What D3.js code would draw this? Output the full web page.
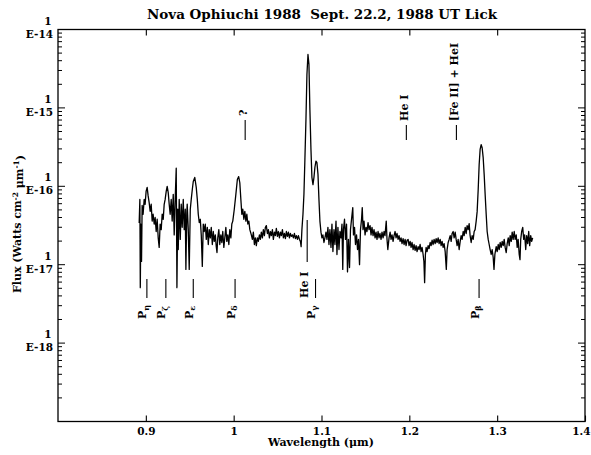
<!DOCTYPE html>
<html>
<head>
<meta charset="utf-8">
<script src="https://cdn.jsdelivr.net/npm/d3@7"></script>
<style>
  body { margin: 0; background: #fff; }
  text { font-family: "DejaVu Serif", serif; font-weight: bold; fill: #000; white-space: pre; }
</style>
</head>
<body>
<svg id="chart" width="591" height="455"></svg>
<script>
// spectrum: [wavelength (um), flux in units of 1e-17 W cm^-2 um^-1]
const spectrumPoints = [
  [0.8924, 3.4], [0.8932, 6.8], [0.8937, 0.51], [0.8943, 3.3], [0.8951, 1.1], [0.8958, 5.7],
  [0.8969, 4.4], [0.8981, 6.8], [0.8992, 5.9], [0.9003, 8.6], [0.9015, 9.7], [0.9026, 7.6],
  [0.9038, 6.2], [0.9049, 4.8], [0.9061, 5.9], [0.9072, 3.6], [0.9083, 4.4], [0.9095, 3.3],
  [0.9106, 4.0], [0.9118, 2.65], [0.9129, 3.8], [0.9141, 2.2], [0.9152, 1.66], [0.9163, 3.3],
  [0.9175, 2.8], [0.9186, 4.4], [0.9198, 3.8], [0.9209, 5.9], [0.9220, 6.8], [0.9232, 8.6],
  [0.9243, 10], [0.9255, 8.3], [0.9266, 5.9], [0.9277, 4.4], [0.9289, 6.8], [0.9300, 3.6],
  [0.9312, 7.9], [0.9323, 2.4], [0.9334, 6.8], [0.9346, 17], [0.9354, 0.51], [0.9363, 5.1],
  [0.9369, 1.56], [0.9380, 6.8], [0.9392, 2.1], [0.9403, 5.9], [0.9414, 3.0], [0.9426, 6.8],
  [0.9437, 2.8], [0.9449, 5.1], [0.9456, 0.87], [0.9466, 4.4], [0.9471, 5.9], [0.9483, 2.8],
  [0.9494, 0.87], [0.9506, 5.1], [0.9517, 6.8], [0.9529, 9.1], [0.9540, 11.5], [0.9557, 13],
  [0.9574, 9.7], [0.9586, 6.8], [0.9597, 4.4], [0.9608, 3.45], [0.9620, 3.8], [0.9631, 2.4],
  [0.9643, 0.95], [0.9654, 3.3], [0.9665, 2.65], [0.9677, 3.3], [0.9688, 2.1], [0.9700, 3.0],
  [0.9711, 1.81], [0.9722, 2.8], [0.9734, 2.2], [0.9745, 3.0], [0.9757, 1.81], [0.9768, 2.65],
  [0.9779, 1.98], [0.9791, 2.4], [0.9802, 1.7], [0.9810, 1.43], [0.9819, 2.2], [0.9831, 2.8],
  [0.9842, 1.81], [0.9854, 2.4], [0.9865, 1.92], [0.9876, 2.65], [0.9888, 1.66], [0.9899, 2.2],
  [0.9911, 3.0], [0.9922, 1.98], [0.9933, 2.4], [0.9945, 1.81], [0.9956, 2.8], [0.9968, 2.2],
  [0.9979, 3.3], [0.9990, 3.6], [1.0007, 5.1], [1.0025, 7.9], [1.0042, 12.2], [1.0057, 13.3],
  [1.0070, 11.1], [1.0082, 6.8], [1.0093, 4.4], [1.0104, 5.1], [1.0116, 3.8], [1.0127, 4.8],
  [1.0139, 3.6], [1.0150, 4.4], [1.0161, 3.3], [1.0173, 3.6], [1.0184, 2.8], [1.0201, 2.4],
  [1.0213, 2.1], [1.0224, 2.6], [1.0236, 1.81], [1.0247, 2.2], [1.0258, 1.75], [1.0270, 2.2],
  [1.0281, 1.98], [1.0293, 2.4], [1.0304, 2.1], [1.0315, 2.6], [1.0327, 2.2], [1.0338, 2.8],
  [1.0350, 2.35], [1.0361, 3.0], [1.0372, 3.15], [1.0384, 2.5], [1.0395, 2.8], [1.0407, 2.2],
  [1.0418, 2.65], [1.0429, 2.35], [1.0441, 2.8], [1.0452, 2.1], [1.0464, 2.6], [1.0475, 2.35],
  [1.0486, 2.9], [1.0498, 2.3], [1.0509, 2.65], [1.0521, 2.2], [1.0532, 2.6], [1.0543, 2.35],
  [1.0555, 2.8], [1.0566, 2.2], [1.0578, 2.5], [1.0589, 2.15], [1.0600, 2.65], [1.0612, 2.3],
  [1.0623, 2.6], [1.0635, 2.2], [1.0646, 2.5], [1.0657, 2.3], [1.0669, 2.4], [1.0680, 2.2],
  [1.0692, 2.5], [1.0703, 2.15], [1.0714, 2.35], [1.0726, 2.1], [1.0737, 2.35], [1.0749, 2.1],
  [1.0760, 1.98], [1.0768, 1.7], [1.0777, 2.8], [1.0789, 4.4], [1.0800, 7.9], [1.0811, 22],
  [1.0823, 71], [1.0834, 265], [1.0846, 480], [1.0857, 360], [1.0868, 95], [1.0880, 29.5],
  [1.0891, 13], [1.0903, 10.5], [1.0914, 13], [1.0925, 17.5], [1.0937, 21], [1.0948, 20],
  [1.0960, 14.2], [1.0971, 6.8], [1.0982, 3.6], [1.0994, 2.6], [1.1005, 2.2], [1.1016, 2.4],
  [1.1028, 1.92], [1.1039, 2.2], [1.1051, 2.6], [1.1062, 2.1], [1.1073, 3.0], [1.1085, 1.81],
  [1.1096, 2.8], [1.1108, 1.66], [1.1119, 3.3], [1.1130, 1.47], [1.1142, 2.8], [1.1153, 1.81],
  [1.1165, 3.6], [1.1176, 1.35], [1.1187, 3.0], [1.1199, 1.56], [1.1210, 2.65], [1.1222, 2.2],
  [1.1233, 3.3], [1.1242, 0.87], [1.1250, 2.8], [1.1262, 3.8], [1.1273, 2.1], [1.1285, 3.3],
  [1.1296, 0.81], [1.1307, 2.1], [1.1319, 0.92], [1.1330, 2.8], [1.1342, 3.8], [1.1356, 5.35],
  [1.1364, 2.4], [1.1376, 3.0], [1.1387, 1.81], [1.1399, 2.4], [1.1410, 1.56], [1.1421, 2.1],
  [1.1433, 1.0], [1.1444, 2.8], [1.1456, 3.8], [1.1464, 5.35], [1.1473, 2.8], [1.1484, 3.6],
  [1.1496, 2.4], [1.1507, 3.0], [1.1518, 2.65], [1.1530, 3.45], [1.1541, 2.8], [1.1553, 3.15],
  [1.1564, 2.4], [1.1575, 3.0], [1.1587, 2.35], [1.1598, 2.8], [1.1610, 2.2], [1.1621, 2.6],
  [1.1632, 2.1], [1.1644, 2.65], [1.1655, 2.2], [1.1666, 2.5], [1.1678, 2.1], [1.1689, 2.6],
  [1.1701, 2.2], [1.1712, 2.65], [1.1723, 2.35], [1.1737, 3.6], [1.1746, 2.1], [1.1755, 1.56],
  [1.1769, 2.2], [1.1781, 2.6], [1.1792, 2.1], [1.1803, 2.4], [1.1815, 1.98], [1.1826, 2.35],
  [1.1838, 2.65], [1.1849, 2.2], [1.1860, 2.5], [1.1872, 2.1], [1.1883, 2.35], [1.1895, 1.98],
  [1.1906, 2.2], [1.1917, 1.86], [1.1929, 2.15], [1.1940, 1.81], [1.1952, 2.1], [1.1963, 1.75],
  [1.1974, 2.05], [1.1986, 2.1], [1.1997, 1.75], [1.2009, 1.98], [1.2020, 1.66], [1.2031, 1.92],
  [1.2043, 1.56], [1.2054, 1.81], [1.2066, 1.52], [1.2077, 1.75], [1.2088, 1.47], [1.2100, 1.7],
  [1.2111, 1.56], [1.2123, 1.81], [1.2134, 1.47], [1.2145, 1.66], [1.2157, 1.35], [1.2166, 1.1],
  [1.2174, 0.59], [1.2183, 1.35], [1.2191, 1.66], [1.2202, 1.47], [1.2214, 1.75], [1.2225, 1.6],
  [1.2237, 1.92], [1.2248, 1.75], [1.2259, 2.05], [1.2271, 1.81], [1.2282, 2.1], [1.2294, 1.86],
  [1.2305, 2.15], [1.2316, 1.92], [1.2328, 2.2], [1.2339, 1.86], [1.2351, 2.1], [1.2362, 1.75],
  [1.2373, 1.98], [1.2385, 1.66], [1.2396, 1.86], [1.2408, 1.47], [1.2421, 0.87], [1.2430, 1.56],
  [1.2442, 1.92], [1.2453, 2.1], [1.2465, 2.35], [1.2476, 1.98], [1.2487, 2.5], [1.2499, 2.65],
  [1.2510, 2.2], [1.2522, 2.6], [1.2533, 2.1], [1.2544, 1.75], [1.2556, 2.1], [1.2567, 1.56],
  [1.2579, 1.98], [1.2590, 2.35], [1.2601, 2.1], [1.2613, 2.65], [1.2624, 2.35], [1.2636, 3.0],
  [1.2647, 2.5], [1.2658, 3.15], [1.2670, 2.8], [1.2681, 3.35], [1.2692, 2.35], [1.2704, 1.92],
  [1.2715, 2.35], [1.2727, 2.1], [1.2738, 2.65], [1.2749, 2.8], [1.2761, 3.6], [1.2772, 4.75],
  [1.2784, 9.1], [1.2795, 19], [1.2806, 29.5], [1.2818, 34], [1.2829, 31], [1.2841, 23],
  [1.2852, 14.2], [1.2863, 7.9], [1.2875, 4.4], [1.2886, 2.65], [1.2898, 2.1], [1.2909, 1.81],
  [1.2920, 1.56], [1.2932, 1.35], [1.2943, 1.56], [1.2955, 1.23], [1.2964, 0.87], [1.2974, 1.35],
  [1.2989, 1.7], [1.3000, 1.47], [1.3012, 1.81], [1.3023, 1.56], [1.3034, 1.92], [1.3046, 1.66],
  [1.3057, 1.98], [1.3069, 1.75], [1.3080, 2.1], [1.3091, 1.66], [1.3103, 1.43], [1.3114, 1.86],
  [1.3126, 2.2], [1.3137, 1.75], [1.3148, 2.35], [1.3160, 1.98], [1.3171, 2.6], [1.3182, 2.1],
  [1.3194, 2.65], [1.3205, 2.1], [1.3217, 2.4], [1.3228, 1.66], [1.3239, 2.1], [1.3251, 1.35],
  [1.3260, 1.16], [1.3268, 2.1], [1.3279, 2.65], [1.3291, 3.0], [1.3302, 2.1], [1.3313, 2.4],
  [1.3325, 1.56], [1.3336, 2.35], [1.3348, 1.86], [1.3359, 2.65], [1.3370, 1.75], [1.3382, 2.35],
  [1.3393, 1.98], [1.3404, 2.2]
];

const xTicks = [0.9, 1.0, 1.1, 1.2, 1.3, 1.4];
const yExponents = [-14, -15, -16, -17, -18];

// line identifications below the spectrum (Paschen series)
const paschenLines = [
  { name: 'P', sub: 'η', wave: 0.9012 },
  { name: 'P', sub: 'ζ', wave: 0.9228 },
  { name: 'P', sub: 'ε', wave: 0.9540 },
  { name: 'P', sub: 'δ', wave: 1.0016 },
  { name: 'P', sub: 'γ', wave: 1.0932 },
  { name: 'P', sub: 'β', wave: 1.2794 }
];
const heLowerLine = { name: 'He I', wave: 1.0837 };
// identifications above the spectrum
const upperLines = [
  { name: '?', wave: 1.0131 },
  { name: 'He I', wave: 1.1966 },
  { name: '[Fe II] + HeI', wave: 1.2536 }
];

const svg = d3.select('#chart');
const x = d3.scaleLinear().domain([0.8, 1.4]).range([58, 585]);
const y = d3.scaleLog().domain([1e-19, 1e-14]).range([421.5, 29.5]);

// frame
svg.append('rect')
    .attr('x', x(0.8)).attr('y', y(1e-14))
    .attr('width', x(1.4) - x(0.8)).attr('height', y(1e-19) - y(1e-14))
    .attr('fill', 'none').attr('stroke', '#000').attr('stroke-width', 1.3);

// x ticks, bottom and top, pointing inward
const xAxis = svg.append('g')
    .attr('transform', `translate(0,${y(1e-19)})`)
    .call(d3.axisBottom(x).tickValues(xTicks).tickSize(-6).tickPadding(6).tickFormat(d3.format('~g')));
xAxis.select('.domain').remove();
xAxis.selectAll('line').attr('stroke-width', 1.1);
xAxis.selectAll('text')
    .attr('font-size', '10.5px')
    .attr('font-family', '"DejaVu Serif", serif')
    .attr('font-weight', 'bold');
xAxis.selectAll('text').filter(d => d === 1.4).attr('text-anchor', 'end').attr('x', 5);

const xTop = svg.append('g')
    .attr('transform', `translate(0,${y(1e-14)})`)
    .call(d3.axisTop(x).tickValues(xTicks.slice(0, -1)).tickSize(-6).tickFormat(''));
xTop.select('.domain').remove();
xTop.selectAll('line').attr('stroke-width', 1.1);

// log ticks left and right
let yTickValues = [];
for (let e = -19; e < -14; e++) {
    for (let m = 1; m <= 9; m++) yTickValues.push({ v: m * Math.pow(10, e), major: m === 1 });
}
[x(0.8), x(1.4)].forEach((edge, i) => {
    const dir = i === 0 ? 1 : -1;
    svg.append('g').selectAll('line')
        .data(yTickValues)
        .enter().append('line')
        .attr('x1', edge)
        .attr('x2', d => edge + dir * (d.major ? 7 : 4))
        .attr('y1', d => y(d.v)).attr('y2', d => y(d.v))
        .attr('stroke', '#000').attr('stroke-width', 1);
});

// y tick labels: "1" over "E-14"
yExponents.forEach(e => {
    const yy = y(Math.pow(10, e));
    svg.append('text').attr('x', 48).attr('y', yy - 5)
        .attr('text-anchor', 'middle').attr('font-size', '10.5px').text('1');
    svg.append('text').attr('x', 53).attr('y', yy + 8)
        .attr('text-anchor', 'end').attr('font-size', '10.5px').text('E-' + (-e));
});

// spectrum
const line = d3.line().x(d => x(d[0])).y(d => y(d[1] * 1e-17));
svg.append('path')
    .datum(spectrumPoints)
    .attr('d', line)
    .attr('fill', 'none')
    .attr('stroke', '#000')
    .attr('stroke-width', 1.3)
    .attr('stroke-linejoin', 'round');

function rotatedLabel(px, py, d) {
    const t = svg.append('text')
        .attr('transform', `translate(${px},${py}) rotate(-90)`)
        .attr('font-size', '11px');
    t.append('tspan').text(d.name);
    if (d.sub) t.append('tspan').attr('dy', '0.3em').attr('font-size', '8px').text(d.sub);
}

// Paschen marks below
paschenLines.forEach(d => {
    const px = x(d.wave);
    svg.append('line').attr('x1', px).attr('x2', px).attr('y1', 279).attr('y2', 298)
        .attr('stroke', '#000').attr('stroke-width', 1.1);
    rotatedLabel(px - 0.5, 319, d);
});

// He I 1.083 mark
{
    const px = x(heLowerLine.wave);
    svg.append('line').attr('x1', px).attr('x2', px).attr('y1', 220).attr('y2', 262)
        .attr('stroke', '#000').attr('stroke-width', 1.1);
    rotatedLabel(px + 0.5, 298, heLowerLine);
}

// marks above
upperLines.forEach((d, i) => {
    const px = x(d.wave);
    const top = i === 0 ? 120 : 125;
    svg.append('line').attr('x1', px).attr('x2', px).attr('y1', top).attr('y2', 140)
        .attr('stroke', '#000').attr('stroke-width', 1.1);
    rotatedLabel(px + 2, top - 4, d);
});

// title and axis titles
svg.append('text').attr('x', 322).attr('y', 19).attr('text-anchor', 'middle')
    .attr('font-size', '13.5px')
    .text('Nova Ophiuchi 1988  Sept. 22.2, 1988 UT Lick');

svg.append('text').attr('x', 321).attr('y', 446).attr('text-anchor', 'middle')
    .attr('font-size', '11px').text('Wavelength (\u03bcm)');

const yTitle = svg.append('text')
    .attr('transform', 'translate(21,224) rotate(-90)')
    .attr('text-anchor', 'middle')
    .attr('font-size', '11px');
yTitle.append('tspan').text('Flux (Watts cm');
yTitle.append('tspan').attr('dy', '-0.45em').attr('font-size', '7.5px').text('-2');
yTitle.append('tspan').attr('dy', '0.45em').text(' \u03bcm');
yTitle.append('tspan').attr('dy', '-0.45em').attr('font-size', '7.5px').text('-1');
yTitle.append('tspan').attr('dy', '0.45em').text(')');
</script>
</body>
</html>
